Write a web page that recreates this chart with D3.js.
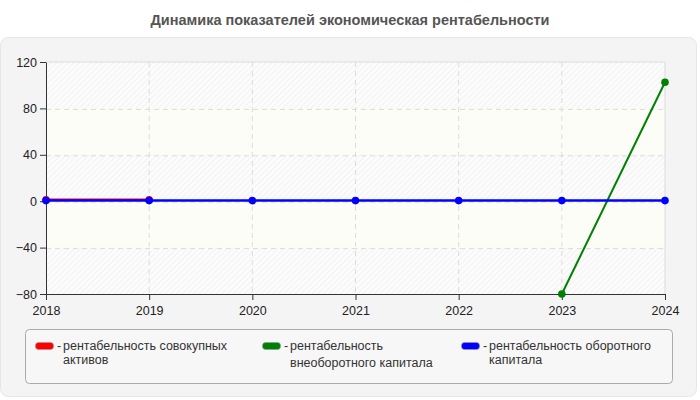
<!DOCTYPE html>
<html><head><meta charset="utf-8">
<script src="https://cdn.jsdelivr.net/npm/d3@7"></script>
<style>body{margin:0;background:#fff;font-family:Arial,"Liberation Sans",sans-serif}</style>
</head><body><svg id="c" width="700" height="400"></svg>
<script>
const years = ["2018","2019","2020","2021","2022","2023","2024"];
const yTicks = [-80,-40,0,40,80,120];
const seriesNames = ["рентабельность совокупных активов","рентабельность внеоборотного капитала","рентабельность оборотного капитала"];
const seriesColors = ["#ff0000","#008000","#0000ff"];
const assetsVals = [1.3, 1.3, null, null, null, null, null];
const nonCurrentVals = [null, null, null, null, null, -80, 102.5];
const currentVals = [0.5, 0.5, 0.5, 0.5, 0.5, 0.5, 0.5];
const allSeries = [assetsVals, nonCurrentVals, currentVals];

const svg = d3.select("#c");
const L=46,R=665,T=62,B=294;
const FF = "Arial,'Liberation Sans',sans-serif";

svg.append("text").attr("x",350).attr("y",25).attr("text-anchor","middle").attr("font-family",FF)
  .attr("font-size",14.5).attr("font-weight","bold").attr("fill","#555").text("Динамика показателей экономическая рентабельности");
svg.append("rect").attr("x",0.5).attr("y",37.5).attr("width",696).attr("height",359).attr("rx",8)
  .attr("fill","#f4f4f4").attr("stroke","#e6e6e6");

const defs = svg.append("defs");
const pat = defs.append("pattern").attr("id","hatch").attr("patternUnits","userSpaceOnUse")
  .attr("width",4).attr("height",4).attr("patternTransform","rotate(45)");
pat.append("rect").attr("width",4).attr("height",4).attr("fill","#fcfcfc");
pat.append("line").attr("x1",0).attr("y1",0).attr("x2",0).attr("y2",4).attr("stroke","#ececec").attr("stroke-width",1.2);

const x = d3.scalePoint().domain(years).range([L,R]);
const y = d3.scaleLinear().domain([-80,120]).range([B,T]);

const g = svg.append("g");
for(let i=0;i<yTicks.length-1;i++){
  const a=yTicks[i], b=yTicks[i+1];
  g.append("rect").attr("x",L).attr("width",R-L).attr("y",y(b)).attr("height",y(a)-y(b))
   .attr("fill", i%2===0 ? "url(#hatch)" : "#fdfdf7");
}
g.selectAll(".hg").data(yTicks.filter(v=>v>-80&&v<120)).enter().append("line")
  .attr("x1",L).attr("x2",R).attr("y1",d=>y(d)+1).attr("y2",d=>y(d)+1)
  .attr("stroke","#dcdcdc").attr("stroke-dasharray","5,4");
g.selectAll(".vg").data(years.slice(1,-1)).enter().append("line")
  .attr("y1",T).attr("y2",B).attr("x1",d=>x(d)).attr("x2",d=>x(d))
  .attr("stroke","#dcdcdc").attr("stroke-dasharray","5,4");
g.append("path").attr("d",`M${L},${T}H${R}V${B}`).attr("fill","none").attr("stroke","#dcdcdc");

const xa = svg.append("g").attr("transform",`translate(0,${B})`)
  .call(d3.axisBottom(x).tickSize(6).tickSizeOuter(0));
const ya = svg.append("g").attr("transform",`translate(${L},0)`)
  .call(d3.axisLeft(y).tickValues(yTicks).tickSize(6).tickSizeOuter(0));
[xa,ya].forEach(a=>{a.selectAll("path,line").attr("stroke","#333");
  a.selectAll("text").attr("font-size",12.5).attr("fill","#222").attr("font-family",FF);});
xa.selectAll("text").attr("dy","0.95em");

allSeries.forEach((vals,i)=>{
  const pts = years.map((yr,j)=>({yr,v:vals[j]})).filter(p=>p.v!==null);
  const line = d3.line().x(p=>x(p.yr)).y(p=>y(p.v));
  svg.append("path").datum(pts).attr("d",line).attr("fill","none")
    .attr("stroke",seriesColors[i]).attr("stroke-width",i===1?2:2.5);
  svg.selectAll(null).data(pts).enter().append("circle")
    .attr("cx",p=>x(p.yr)).attr("cy",p=>y(p.v)).attr("r",3.8).attr("fill",seriesColors[i]);
});

// legend
svg.append("rect").attr("x",25.5).attr("y",329.5).attr("width",647).attr("height",54).attr("rx",4)
  .attr("fill","#f7f7f7").attr("stroke","#aaa");
const legX = [35,262,461];
const legLines = [["рентабельность совокупных","активов"],["рентабельность","внеоборотного капитала"],["рентабельность оборотного","капитала"]];
const line2Y = [363.5,367,363.5];
legX.forEach((lx,i)=>{
  svg.append("rect").attr("x",lx+0.5).attr("y",342.5).attr("width",18).attr("height",7).attr("rx",3)
    .attr("fill",seriesColors[i]).attr("stroke","#999").attr("stroke-width",0.6);
  svg.append("text").attr("x",lx+22).attr("y",350).attr("font-family",FF).attr("font-size",12.5).attr("fill","#333").text("-");
  svg.append("text").attr("x",lx+28).attr("y",350).attr("font-family",FF).attr("font-size",12.5).attr("fill","#333").text(legLines[i][0]);
  svg.append("text").attr("x",lx+28).attr("y",line2Y[i]).attr("font-family",FF).attr("font-size",12.5).attr("fill","#333").text(legLines[i][1]);
});
</script></body></html>
